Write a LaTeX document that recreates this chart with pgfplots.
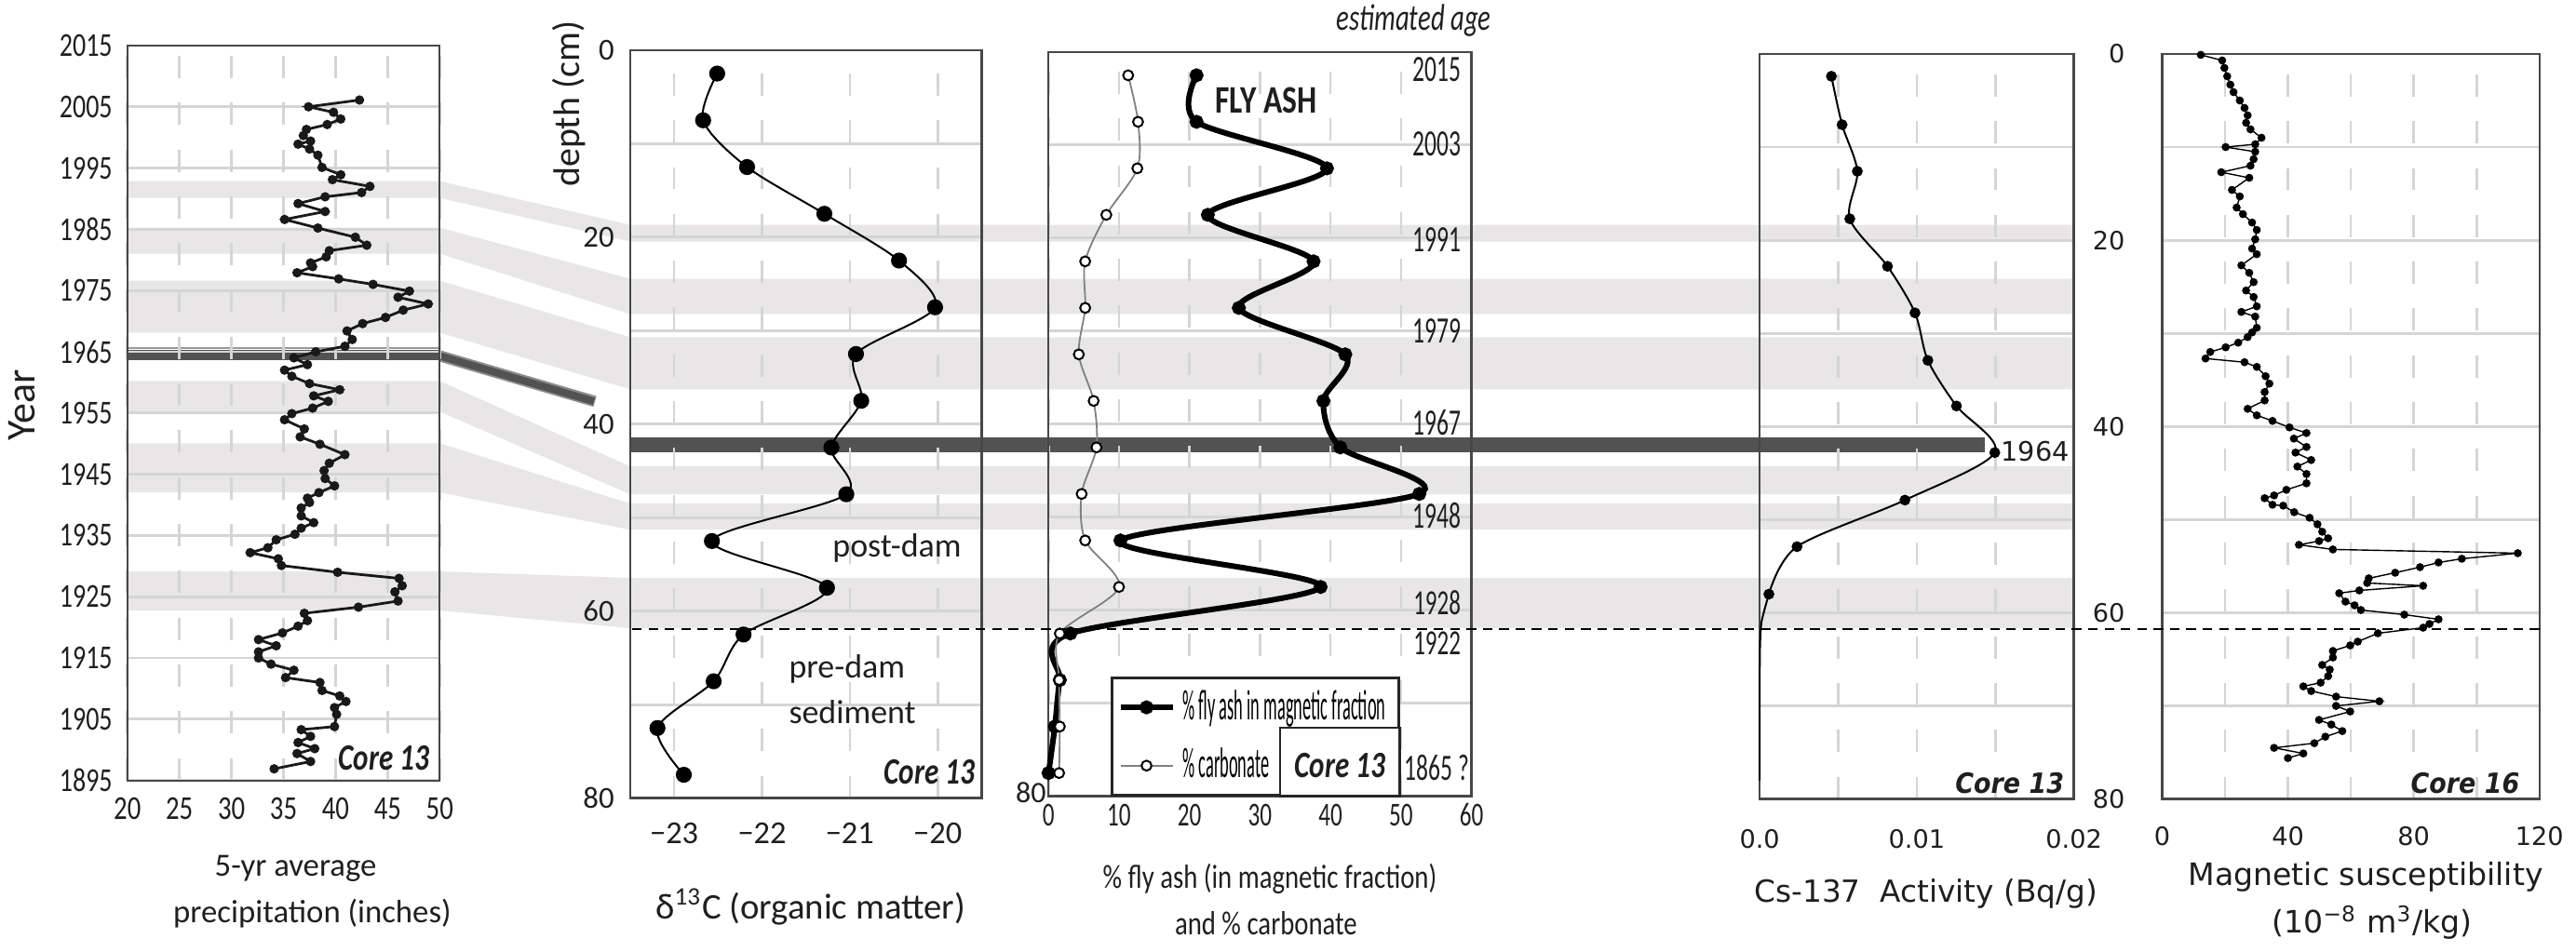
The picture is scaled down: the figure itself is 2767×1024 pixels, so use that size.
\documentclass[border=0pt]{standalone}
\usepackage{fontspec}
\usepackage{graphicx}
\usepackage{pgfplots}
\pgfplotsset{compat=1.18}
\setmainfont{Carlito}
\newfontfamily\dv{DejaVu Sans}
\definecolor{band}{HTML}{E8E6E6}
\definecolor{dband}{HTML}{525252}
\definecolor{gridc}{HTML}{D5D5D5}
\newcommand{\fs}[1]{\fontsize{#1}{#1}\selectfont}
\newcommand{\sx}[2]{\scalebox{#1}[1]{#2}}
\pgfplotsset{
  panel/.style={
    scale only axis, anchor=south west, clip=false,
    axis line style={draw=black!72, line width=0.6pt},
    major tick length=0pt, minor tick length=0pt,
    xmajorgrids, ymajorgrids,
    x grid style={draw=gridc, line width=0.65pt, dash pattern=on 6pt off 6.6pt},
    y grid style={draw=gridc, line width=0.7pt},
    xticklabel style={anchor=center, text=black!88},
    yticklabel style={anchor=east, text=black!88},
  },
  depth/.style={ymin=-80, ymax=0, ytick={-80,-70,-60,-50,-40,-30,-20,-10,0}},
}
\begin{document}
\begin{tikzpicture}
\begin{scope}[x=0.25pt,y=-0.25pt]
\useasboundingbox (0,0) rectangle (2767,1024);
\foreach \a/\b/\c/\d in {195/213/242/260, 245/273/300/338, 302/358/363/419, 410/443/502/532, 477/530/542/570, 615/657/622/676}{
  \fill[band] (137,\a) -- (473,\a) -- (678,\c) -- (2231,\c) -- (2231,\d) -- (678,\d) -- (473,\b) -- (137,\b) -- cycle;
}
\fill[dband] (137,377) rectangle (473,388);
\draw[black!40, line width=0.5pt] (137,375) -- (473,375);
\draw[black!45, line width=3pt] (473,383) -- (640,432);
\draw[dband, line width=2pt] (473,383) -- (639,432);
\fill[dband] (678,471) rectangle (2135,487);
\end{scope}

% ---------- Panel 1: precipitation ----------
\begin{axis}[panel, at={(34.25pt,-210pt)}, width=84pt, height=197.75pt,
  xmin=20, xmax=50, ymin=1895, ymax=2015,
  xtick={20,25,30,35,40,45,50},
  xticklabels={\sx{.8}{20},\sx{.8}{25},\sx{.8}{30},\sx{.8}{35},\sx{.8}{40},\sx{.8}{45},\sx{.8}{50}},
  ytick={1895,1905,1915,1925,1935,1945,1955,1965,1975,1985,1995,2005,2015},
  yticklabels={\sx{.78}{1895},\sx{.78}{1905},\sx{.78}{1915},\sx{.78}{1925},\sx{.78}{1935},\sx{.78}{1945},\sx{.78}{1955},\sx{.78}{1965},\sx{.78}{1975},\sx{.78}{1985},\sx{.78}{1995},\sx{.78}{2005},\sx{.78}{2015}},
  xticklabel style={font=\fs{9}, yshift=-7.5pt},
  yticklabel style={font=\fs{9}, xshift=-0.5pt},
]
\addplot[black!90, line width=0.7pt, mark=*, mark size=0.9pt] table[x=p,y=y] {
y p
2006.1 42.3
2005.0 37.4
2004.1 39.8
2003.0 40.5
2002.1 39.2
2001.3 37.2
2000.3 36.9
1999.4 37.6
1998.9 36.4
1998.1 37.5
1997.1 38.3
1995.1 38.7
1993.9 40.5
1993.1 39.7
1992.0 43.3
1991.0 42.5
1990.3 39.0
1989.2 36.4
1987.9 39.0
1986.6 35.1
1985.2 38.3
1983.7 41.9
1982.4 43.0
1981.5 39.4
1980.5 39.1
1979.5 37.6
1978.9 37.8
1977.9 36.3
1976.9 40.3
1976.0 43.6
1974.9 47.1
1973.9 46.0
1972.8 48.9
1971.8 46.5
1970.6 44.8
1969.6 42.6
1968.4 41.1
1967.0 41.6
1965.9 40.9
1965.0 38.1
1964.0 36.0
1962.9 37.3
1962.0 35.1
1961.0 35.8
1959.8 37.5
1958.8 40.4
1957.8 37.9
1956.9 39.3
1955.8 37.8
1954.9 35.8
1953.9 35.1
1952.4 37.0
1951.1 36.6
1949.9 38.5
1948.2 40.9
1946.8 39.4
1945.6 38.9
1944.3 39.0
1943.1 39.9
1942.0 38.4
1941.1 37.3
1940.4 37.5
1939.5 36.7
1938.2 36.7
1937.1 37.9
1936.2 36.7
1935.2 36.1
1934.3 34.3
1933.0 33.5
1932.2 31.8
1931.2 34.5
1930.1 34.8
1929.0 40.2
1928.0 46.1
1926.8 46.4
1925.8 45.7
1924.3 46.0
1923.3 42.2
1922.3 37.0
1921.1 37.3
1920.2 36.4
1919.1 34.9
1918.0 32.6
1917.0 34.3
1916.0 32.6
1915.0 32.6
1914.0 33.8
1913.0 36.0
1911.8 35.2
1911.0 38.5
1909.7 38.7
1908.8 40.4
1907.9 41.0
1906.9 39.9
1905.8 40.1
1903.8 39.9
1903.3 36.7
1902.2 37.6
1901.2 36.4
1900.2 38.0
1899.4 36.3
1898.1 37.6
1896.9 34.1
};
\end{axis}

% ---------- Panel 2: d13C ----------
\begin{axis}[panel, depth, at={(169.5pt,-214.75pt)}, width=94.5pt, height=201.25pt,
  xmin=-23.5, xmax=-19.5, xtick={-23,-22,-21,-20},
  xticklabels={−23,−22,−21,−20},
  yticklabels={80,,60,,40,,20,,0},
  xticklabel style={font=\fs{8.6}, yshift=-9.5pt},
  yticklabel style={font=\fs{8.2}, xshift=-0.8pt},
]
\addplot[black, line width=0.5pt, smooth, mark=*, mark size=1.9pt] table[x=c,y=d] {
d c
-2.5 -22.51
-7.5 -22.67
-12.5 -22.17
-17.5 -21.29
-22.5 -20.44
-27.5 -20.03
-32.5 -20.93
-37.5 -20.87
-42.5 -21.21
-47.5 -21.04
-52.5 -22.57
-57.5 -21.26
-62.5 -22.21
-67.5 -22.55
-72.5 -23.19
-77.5 -22.89
};
\end{axis}

% ---------- Panel 3: fly ash & carbonate ----------
\begin{axis}[panel, depth, at={(282pt,-214.25pt)}, width=113.75pt, height=200.25pt,
  xmin=0, xmax=60, xtick={0,10,20,30,40,50,60},
  xticklabels={\sx{.7}{0},\sx{.7}{10},\sx{.7}{20},\sx{.7}{30},\sx{.7}{40},\sx{.7}{50},\sx{.7}{60}},
  yticklabels={},
  xticklabel style={font=\fs{9}, yshift=-5pt},
  legend style={at={(axis cs:49.85,-80)}, anchor=south east, draw=black!85, line width=0.6pt, fill=white,
    inner xsep=1.5pt, inner ysep=1.2pt, row sep=2.2pt, font=\fs{11.5}, cells={anchor=west}},
  legend image code/.code={\draw[mark repeat=2,mark phase=2,#1] plot coordinates {(0pt,0pt) (7pt,0pt) (14pt,0pt)};},
]
\addplot[black, line width=1.5pt, smooth, mark=*, mark size=1.1pt] table[x=f,y=d] {
d f
-2.5 21.0
-7.5 21.0
-12.5 39.5
-17.5 22.6
-22.5 37.6
-27.5 27.0
-32.5 42.1
-37.5 39.0
-42.5 41.4
-47.5 52.6
-52.5 10.2
-57.5 38.6
-62.5 3.1
-67.5 1.6
-72.5 0.9
-77.5 0.0
};
\addlegendentry{\sx{0.4}{\% fly ash in magnetic fraction}}
\addplot[black!50, line width=0.45pt, smooth, mark=*, mark size=1.35pt,
  mark options={draw=black, fill=white, line width=0.5pt}] table[x=c,y=d] {
d c
-2.5 11.3
-7.5 12.7
-12.5 12.6
-17.5 8.2
-22.5 5.2
-27.5 5.2
-32.5 4.3
-37.5 6.4
-42.5 6.8
-47.5 4.7
-52.5 5.2
-57.5 10.0
-62.5 1.6
-67.5 1.5
-72.5 1.6
-77.5 1.5
};
\addlegendentry{\sx{0.4}{\% carbonate}}
\end{axis}

% ---------- Panel 4: Cs-137 ----------
\begin{axis}[panel, depth, at={(473.25pt,-215pt)}, width=84.5pt, height=200.5pt,
  xmin=0, xmax=0.02, xtick={0,0.005,0.01,0.015,0.02},
  scaled x ticks=false,
  xticklabels={0.0,,0.01,,0.02},
  yticklabels={},
  xticklabel style={font=\dv\fs{6.8}, yshift=-10.75pt},
]
\addplot[black, line width=0.5pt, smooth, mark=*, mark size=1.2pt] table[x=a,y=d] {
d a
-2.4 0.00457
-7.6 0.00525
-12.6 0.00622
-17.7 0.00574
-22.8 0.00814
-27.8 0.00989
-32.9 0.01071
-37.8 0.01253
-42.8 0.01497
-47.9 0.00925
-52.9 0.00238
-58.0 0.00059
};
\addplot[black, line width=0.5pt, smooth, tension=0.4] table[x=a,y=d] {
d a
-58.0 0.00059
-61.0 0.00012
-64.0 0.00002
-70.0 0.0
-78.0 0.0
};
\end{axis}

% ---------- Panel 5: magnetic susceptibility ----------
\begin{axis}[panel, depth, at={(581.5pt,-215pt)}, width=101.5pt, height=200.5pt,
  xmin=0, xmax=120, xtick={0,20,40,60,80,100,120},
  xticklabels={0,,40,,80,,120},
  yticklabels={80,,60,,40,,20,,0},
  xticklabel style={font=\dv\fs{6.8}, yshift=-10pt},
  yticklabel style={font=\dv\fs{6.8}, xshift=-6.5pt},
]
\addplot[black, line width=0.35pt, mark=*, mark size=0.9pt] table[x=m,y=d] {
d m
-0.1 12.3
-0.7 19.1
-1.5 19.8
-2.4 20.7
-3.3 21.7
-4.1 22.7
-5.0 24.7
-5.8 26.2
-6.6 27.2
-7.4 26.7
-8.1 28.1
-9.0 31.6
-9.7 29.6
-10.0 20.2
-10.5 29.6
-11.3 29.1
-12.0 28.1
-12.7 18.8
-13.3 27.7
-14.6 22.2
-15.3 24.7
-16.5 23.7
-17.2 25.7
-18.1 28.6
-18.9 30.1
-19.9 29.6
-20.9 28.6
-21.5 30.1
-22.7 25.2
-23.5 27.7
-24.5 29.1
-25.4 26.7
-26.1 29.1
-27.1 30.1
-27.7 25.2
-28.2 29.6
-29.4 30.1
-29.9 28.6
-30.4 27.2
-31.0 24.2
-31.5 20.2
-32.0 15.3
-32.7 13.8
-33.1 26.2
-33.6 30.1
-34.6 32.9
-35.4 34.1
-36.3 32.6
-37.2 32.6
-38.1 27.2
-38.8 30.1
-39.4 35.1
-40.1 40.5
-40.7 45.9
-41.3 41.9
-42.2 45.9
-42.8 42.4
-43.6 47.4
-44.3 43.0
-45.1 45.9
-46.1 45.9
-46.8 39.5
-47.4 35.6
-47.7 32.6
-48.4 35.1
-48.5 38.5
-49.2 42.0
-49.8 46.9
-50.5 49.4
-51.3 50.9
-52.0 52.8
-52.3 49.9
-52.7 43.5
-53.2 54.3
-53.6 113.1
-54.2 95.3
-54.6 87.9
-55.1 82.0
-55.7 74.1
-56.3 65.7
-56.8 65.2
-57.1 83.0
-57.6 62.7
-57.9 56.3
-58.8 58.3
-59.2 61.2
-59.7 63.2
-60.2 77.0
-60.7 87.9
-61.2 85.0
-61.6 83.0
-62.2 68.6
-63.1 62.2
-63.5 59.8
-64.1 54.3
-64.8 54.3
-65.6 50.9
-66.1 53.3
-66.8 52.8
-67.5 50.4
-67.9 44.9
-68.4 47.4
-69.0 55.3
-69.5 69.1
-70.0 55.3
-70.6 59.8
-71.5 49.9
-72.0 53.8
-72.7 57.3
-73.3 51.9
-74.0 48.4
-74.5 35.6
-75.1 44.9
-75.6 40.0
};
\end{axis}

% ---------- annotations ----------
\begin{scope}[x=0.25pt,y=-0.25pt, every node/.style={text=black!88, inner sep=0pt}]
\draw[black, line width=0.7pt, dash pattern=on 2.6pt off 1.8pt] (680,677) -- (2736,677);
\node[rotate=90] at (24,436) {\fs{11}Year};
\node at (318,935) {\fs{8.7}5-yr average};
\node at (336,983) {\fs{8.7}precipitation (inches)};
\node[rotate=90] at (612,112) {\fs{10}depth (cm)};
\node at (872,976) {\fs{9.7}δ\textsuperscript{13}C (organic matter)};
\node at (1366,946) {\fs{9}\sx{0.8}{\% fly ash (in magnetic fraction)}};
\node at (1362,994) {\fs{9}\sx{0.8}{and \% carbonate}};
\node at (2072,962) {\dv\fs{8.2}Cs-137\ \ Activity (Bq/g)};
\node at (2545,944) {\dv\fs{8.3}Magnetic susceptibility};
\node at (2552,993) {\dv\fs{8.3}(10\textsuperscript{−8} m\textsuperscript{3}/kg)};
\node at (1521,22) {\fs{10}\itshape\sx{0.72}{estimated age}};
\node at (1362,108) {\fs{10.5}\bfseries\sx{0.8}{FLY ASH}};
\foreach \yy/\lab in {75/2015,155/2003,258/1991,356/1979,455/1967,555/1948}
  \node at (1546,\yy) {\fs{10}\sx{0.64}{\lab}};
\node at (1546,649) {\fs{9.5}\sx{0.66}{1928}};
\node at (1546,692) {\fs{9.5}\sx{0.66}{1922}};
\node at (1546,826) {\fs{10}\sx{0.64}{1865 ?}};
\node at (965,590) {\fs{9}post-dam};
\node[anchor=west] at (848,720) {\fs{9}pre-dam};
\node[anchor=west] at (848,766) {\fs{9}sediment};
\node[anchor=east] at (1126,853) {\fs{8}80};
\node at (413,816) {\fs{10}\bfseries\itshape\sx{0.78}{Core 13}};
\node at (1000,831) {\fs{10}\bfseries\itshape\sx{0.78}{Core 13}};
\node[draw=black!85, fill=white, line width=0.6pt, minimum width=32.25pt, minimum height=18.5pt] at (1441.5,820) {};
\node at (1441.5,824) {\fs{10}\bfseries\itshape\sx{0.78}{Core 13}};
\node at (2162,843) {\dv\fs{7.5}\bfseries\itshape\sx{0.9}{Core 13}};
\node at (2652,843) {\dv\fs{7.5}\bfseries\itshape\sx{0.9}{Core 16}};
\node[anchor=west] at (2152,486) {\dv\fs{7.2}1964};
\end{scope}
\end{tikzpicture}
\end{document}
